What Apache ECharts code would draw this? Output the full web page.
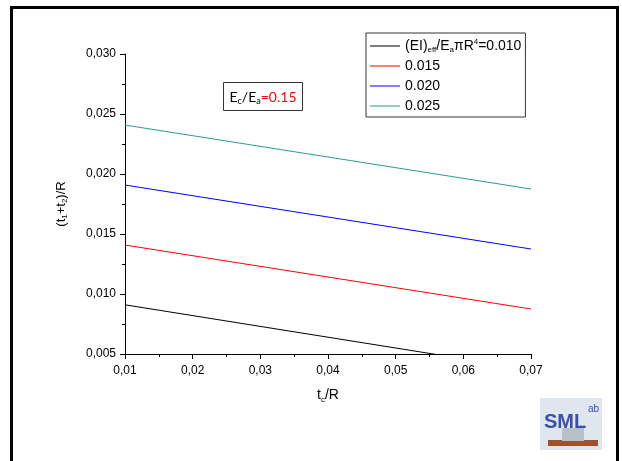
<!DOCTYPE html>
<html>
<head>
<meta charset="utf-8">
<script src="https://cdn.jsdelivr.net/npm/echarts@6/dist/echarts.min.js"></script>
<style>
  html, body { margin: 0; padding: 0; background: #fff; }
</style>
</head>
<body>
<div id="chart" style="width: 622px; height: 461px"></div>
<script>
// x = tc/R, y = (t1+t2)/R, one line per (EI)eff/EaπR^4
var xValues = [0.01, 0.07]
var seriesNames = ['0.010', '0.015', '0.020', '0.025']
var lineBlack = [0.0091, 0.0037]
var lineRed = [0.01408, 0.00875]
var lineBlue = [0.01908, 0.01375]
var lineTeal = [0.02408, 0.01875]
var lineColors = ['#000000', '#ff0000', '#0000ff', '#2b9b94']

var myChart = echarts.init(document.getElementById('chart'))
var font = '"Liberation Sans", Arial, sans-serif'

function pairs (ys) {
  return xValues.map(function (x, i) { return [x, ys[i]] })
}

var allLines = [lineBlack, lineRed, lineBlue, lineTeal]
var series = allLines.map(function (ys, i) {
  return {
    name: seriesNames[i],
    type: 'line',
    symbol: 'none',
    clip: true,
    data: pairs(ys),
    lineStyle: { color: lineColors[i], width: 1 },
    itemStyle: { color: lineColors[i] }
  }
})

var option = {
  animation: false,
  backgroundColor: '#fff',
  grid: { left: 125, right: 91, top: 54, bottom: 107 },
  legend: {
    orient: 'vertical',
    left: 366,
    top: 33,
    padding: [5, 4, 3, 4],
    itemGap: 4,
    itemWidth: 30,
    itemHeight: 1,
    icon: 'rect',
    borderColor: '#333',
    borderWidth: 1,
    data: seriesNames,
    formatter: function (name) {
      if (name === '0.010') return '(EI){s|eff}/E{s|a}πR{p|4}=0.010'
      return name
    },
    textStyle: {
      fontFamily: font,
      fontSize: 14,
      color: '#000',
      lineHeight: 16,
      rich: {
        s: { fontFamily: font, fontSize: 8, verticalAlign: 'bottom', lineHeight: 16, color: '#000' },
        p: { fontFamily: font, fontSize: 8, verticalAlign: 'top', lineHeight: 16, color: '#000' }
      }
    }
  },
  xAxis: {
    type: 'value',
    min: 0.01,
    max: 0.07,
    interval: 0.01,
    name: 't{s|c}/R',
    nameLocation: 'middle',
    nameGap: 32,
    nameTextStyle: {
      fontFamily: font, fontSize: 14, color: '#000',
      rich: { s: { fontFamily: font, fontSize: 8, verticalAlign: 'bottom', lineHeight: 18 } }
    },
    splitLine: { show: false },
    axisLine: { lineStyle: { color: '#000', width: 1 } },
    axisTick: { length: 5, lineStyle: { color: '#000' } },
    minorTick: { show: true, splitNumber: 2, length: 3, lineStyle: { color: '#000' } },
    axisLabel: {
      fontFamily: font, fontSize: 12, color: '#000', margin: 11,
      formatter: function (v) { return v.toFixed(2).replace('.', ',') }
    }
  },
  yAxis: {
    type: 'value',
    min: 0.005,
    max: 0.03,
    interval: 0.005,
    name: '(t{s|1}+t{s|2})/R',
    nameLocation: 'middle',
    nameGap: 56,
    nameTextStyle: {
      fontFamily: font, fontSize: 13, color: '#000',
      rich: { s: { fontFamily: font, fontSize: 8, verticalAlign: 'bottom', lineHeight: 16 } }
    },
    splitLine: { show: false },
    axisLine: { show: true, lineStyle: { color: '#000', width: 1 } },
    axisTick: { show: true, length: 5, lineStyle: { color: '#000' } },
    minorTick: { show: true, splitNumber: 2, length: 3, lineStyle: { color: '#000' } },
    axisLabel: {
      fontFamily: font, fontSize: 12, color: '#000', margin: 9,
      formatter: function (v) { return v.toFixed(3).replace('.', ',') }
    }
  },
  graphic: [
    // slide frame
    {
      type: 'rect',
      shape: { x: 11.5, y: 7.5, width: 606, height: 470 },
      style: { fill: 'none', stroke: '#000', lineWidth: 3 },
      silent: true
    },
    // Ec/Ea note
    {
      type: 'rect',
      shape: { x: 223.5, y: 82.5, width: 79, height: 28 },
      style: { fill: '#fff', stroke: '#333', lineWidth: 1 }
    },
    {
      type: 'text',
      x: 263,
      y: 97,
      style: {
        text: 'E{s|c}/E{s|a}{r|=0.15}',
        fontFamily: 'Lato, "Open Sans", sans-serif',
        fontSize: 14,
        fill: '#000',
        align: 'center',
        verticalAlign: 'middle',
        lineHeight: 18,
        rich: {
          s: { fontFamily: 'Lato, sans-serif', fontSize: 9, verticalAlign: 'bottom', lineHeight: 18, fill: '#000' },
          r: { fontFamily: 'Lato, sans-serif', fontSize: 14, lineHeight: 18, fill: '#ff0000' }
        }
      }
    },
    // lab logo
    {
      type: 'group',
      left: 540,
      top: 398,
      children: [
        { type: 'rect', shape: { x: 0, y: 0, width: 62, height: 52 }, style: { fill: '#dfe6ee' } },
        { type: 'rect', shape: { x: 8, y: 42, width: 50, height: 6 }, style: { fill: '#a0522d' } },
        { type: 'rect', shape: { x: 22, y: 30, width: 22, height: 13 }, style: { fill: '#b8c0c8' } },
        {
          type: 'text', x: 4, y: 14,
          style: { text: 'SML', fontFamily: font, fontSize: 20, fontWeight: 'bold', fill: '#3a4fb0' }
        },
        {
          type: 'text', x: 48, y: 6,
          style: { text: 'ab', fontFamily: font, fontSize: 10, fill: '#3a4fb0' }
        }
      ]
    }
  ],
  series: series
}

myChart.setOption(option)
</script>
</body>
</html>
